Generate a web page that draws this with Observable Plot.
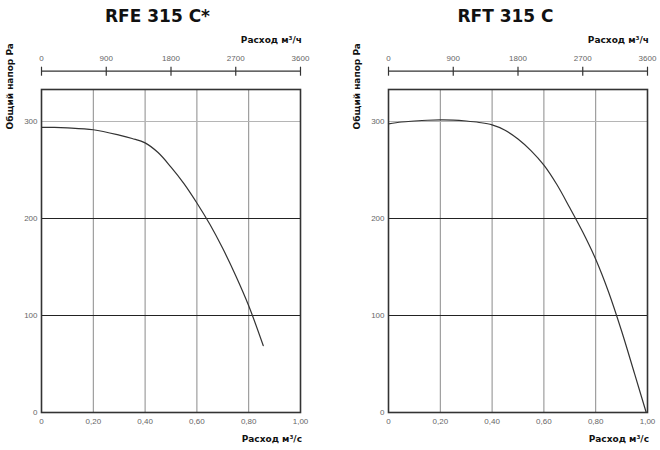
<!DOCTYPE html>
<html>
<head>
<meta charset="utf-8">
<script src="https://cdn.jsdelivr.net/npm/d3@7"></script>
<script src="https://cdn.jsdelivr.net/npm/@observablehq/plot@0.6"></script>
<style>
  html, body { margin: 0; padding: 0; background: #fff; }
  #wrap { display: flex; width: 660px; height: 450px; }
  #wrap svg { display: block; }
</style>
</head>
<body>
<div id="wrap"></div>
<script>
// ---- data ----
const titles = ["RFE 315 C*", "RFT 315 C"];
const yAxisLabel = "Общий напор Pa";
const xLabelBottom = "Расход м³/с";
const xLabelTop = "Расход м³/ч";

// flow (m³/s) and pressure (Pa)
const rfeFlow = [0, 0.05, 0.1, 0.2, 0.3, 0.35, 0.4, 0.45, 0.5, 0.55, 0.6, 0.65, 0.7, 0.75, 0.8, 0.856];
const rfePa   = [294, 294, 293.5, 291.5, 286, 282.5, 278, 268, 253, 236, 216, 194, 169, 141, 110, 69];

const rftFlow = [0, 0.05, 0.1, 0.15, 0.2, 0.25, 0.3, 0.35, 0.4, 0.45, 0.5, 0.55, 0.6, 0.65, 0.7, 0.75, 0.8, 0.85, 0.9, 0.95, 0.995];
const rftPa   = [297.5, 299.5, 300.5, 301.3, 301.7, 301.5, 300.5, 299, 296.5, 291, 282, 270, 255, 235, 211, 186, 158, 124, 84, 40, 0];

const xTicks = [0, 0.2, 0.4, 0.6, 0.8, 1.0];
const xTickLabels = ["0", "0,20", "0,40", "0,60", "0,80", "1,00"];
const yTicks = [0, 100, 200, 300];
const topTicksM3h = [0, 900, 1800, 2700, 3600];
const yDomain = [0, 333];
const xDomain = [0, 1];

const heavy = "'DejaVu Sans', sans-serif";
const light = "'Liberation Sans', 'DejaVu Sans', sans-serif";

function chart(title, flow, pa, marginLeft, marginRight, titleDx) {
  const data = flow.map((f, i) => ({f, p: pa[i]}));
  return Plot.plot({
    width: 330,
    height: 450,
    marginLeft,
    marginRight,
    marginTop: 89,
    marginBottom: 38,
    style: {fontFamily: light, background: "#fff"},
    x: {domain: xDomain},
    y: {domain: yDomain},
    marks: [
      // grid
      Plot.ruleX(xTicks.slice(1, -1), {stroke: "#8a8a8a", strokeWidth: 1}),
      Plot.ruleY([100, 200], {stroke: "#222", strokeWidth: 1}),
      Plot.ruleY([300], {stroke: "#b5b5b5", strokeWidth: 1}),
      Plot.frame({stroke: "#333", strokeWidth: 1.6}),
      // bottom axis
      Plot.axisX(xTicks, {
        anchor: "bottom", tickSize: 0, tickPadding: 6,
        tickFormat: d => xTickLabels[xTicks.indexOf(d)],
        fontSize: 8, fill: "#666", label: null
      }),
      // left axis
      Plot.axisY(yTicks, {
        anchor: "left", tickSize: 0, tickPadding: 4,
        fontSize: 8, fill: "#666", label: null
      }),
      // top axis (m³/h), drawn on the same scale: 3600 m³/h = 1 m³/s
      Plot.ruleY([yDomain[1]], {dy: -18.3, stroke: "#333", strokeWidth: 1.2}),
      Plot.axisX(topTicksM3h.map(d => d / 3600), {
        anchor: "top", tickSize: 9, dy: -14.3, tickPadding: 5,
        stroke: "#333", strokeWidth: 1.2,
        tickFormat: d => String(Math.round(d * 3600)),
        fontSize: 8, fill: "#666", label: null
      }),
      // curve
      Plot.line(data, {x: "f", y: "p", stroke: "#333", strokeWidth: 1.2, curve: "catmull-rom"}),
      // labels
      Plot.text([title], {
        frameAnchor: "top", dx: titleDx, dy: -80,
        fontFamily: heavy, fontWeight: "bold", fontSize: 17, fill: "#111"
      }),
      Plot.text([xLabelTop], {
        frameAnchor: "top-right", textAnchor: "end", dx: 1.5, dy: -52.5,
        fontFamily: heavy, fontWeight: "bold", fontSize: 9, fill: "#111"
      }),
      Plot.text([xLabelBottom], {
        frameAnchor: "bottom-right", textAnchor: "end", dx: 1.5, dy: 29,
        fontFamily: heavy, fontWeight: "bold", fontSize: 9, fill: "#111"
      }),
      Plot.text([yAxisLabel], {
        frameAnchor: "top-left", rotate: -90, dx: -34.5, dy: 40,
        fontFamily: heavy, fontWeight: "bold", fontSize: 9, fill: "#111"
      })
    ]
  });
}

const wrap = document.getElementById("wrap");
wrap.appendChild(chart(titles[0], rfeFlow, rfePa, 41, 30, -13.5));
wrap.appendChild(chart(titles[1], rftFlow, rftPa, 58, 13, -12.5));
</script>
</body>
</html>
